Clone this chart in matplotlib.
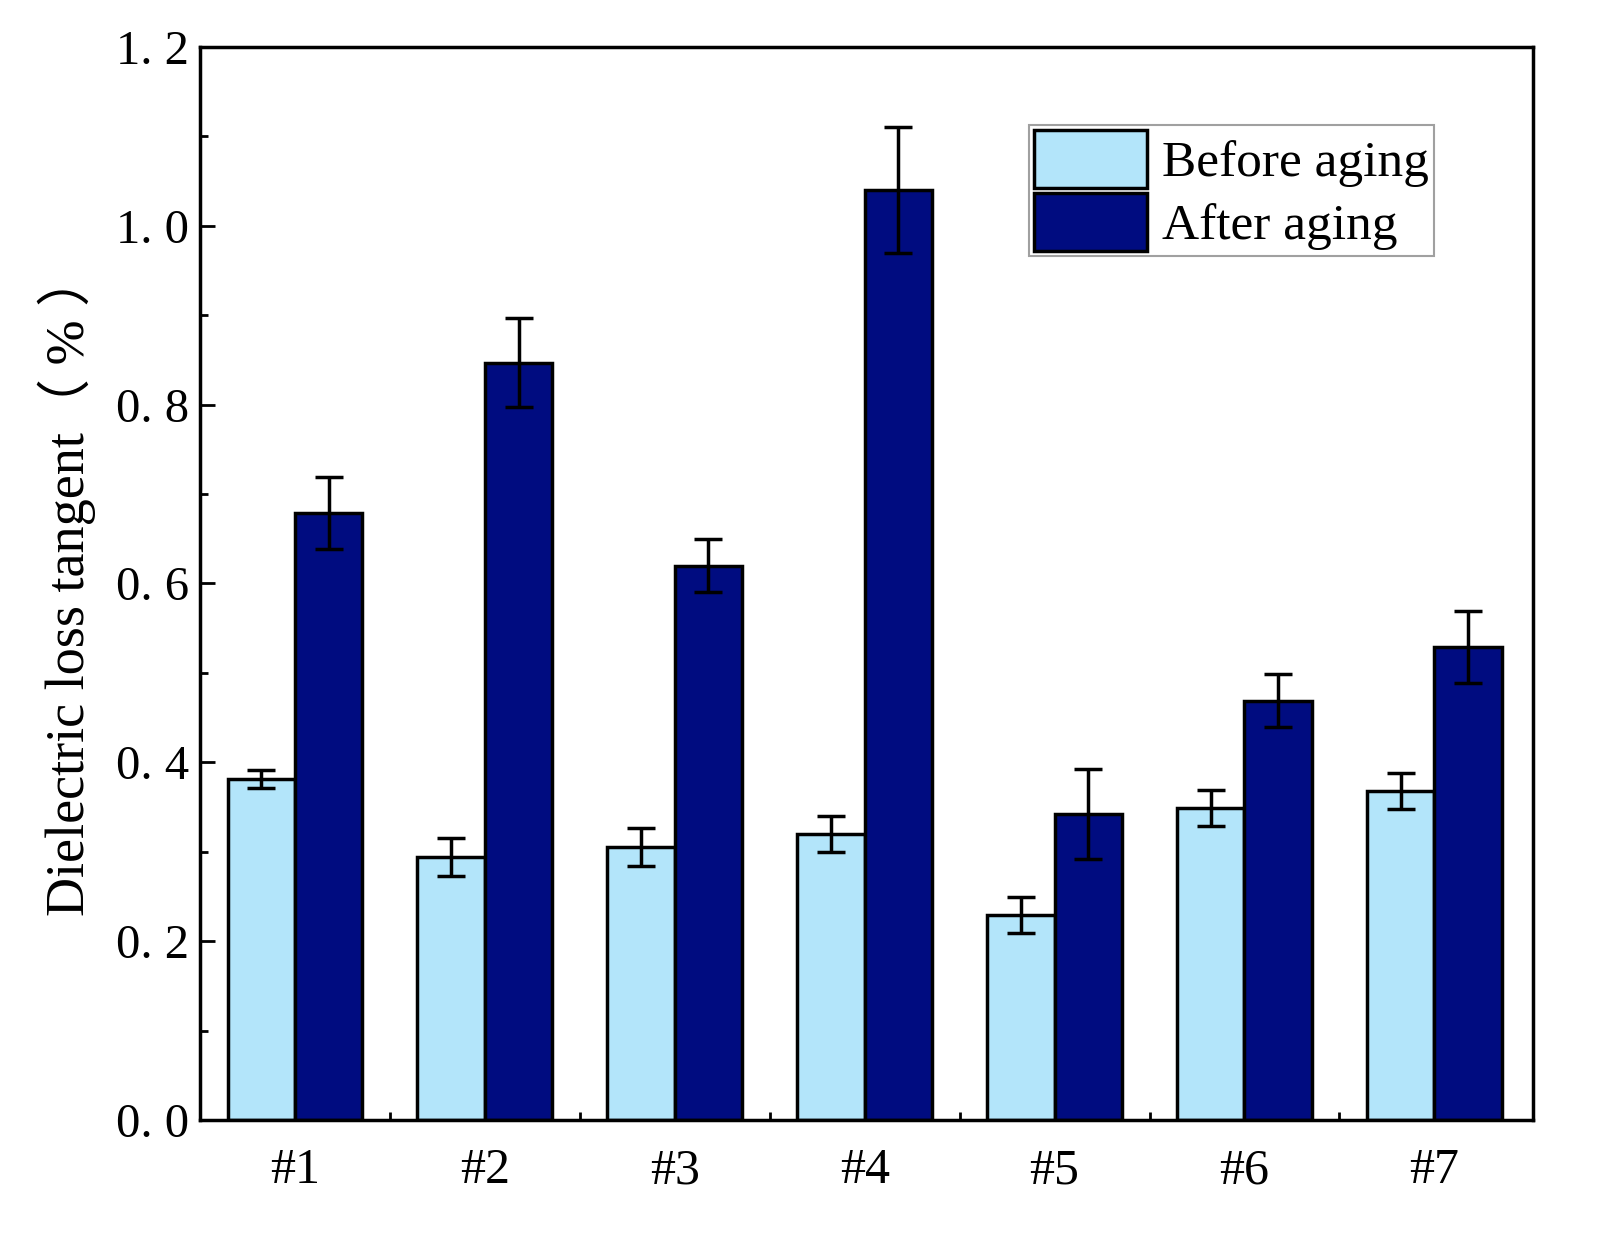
import numpy as np
import matplotlib
matplotlib.use('Agg')
import matplotlib.pyplot as plt
from matplotlib.ticker import MultipleLocator, FixedLocator

samples = ['#1', '#2', '#3', '#4', '#5', '#6', '#7']
before = [0.381, 0.294, 0.305, 0.320, 0.229, 0.349, 0.368]
before_err = [0.010, 0.021, 0.021, 0.020, 0.020, 0.020, 0.020]
after = [0.679, 0.847, 0.620, 1.040, 0.342, 0.469, 0.529]
after_err = [0.040, 0.050, 0.030, 0.070, 0.050, 0.030, 0.040]
yticks = [0.0, 0.2, 0.4, 0.6, 0.8, 1.0, 1.2]
ytick_labels = ['0. 0', '0. 2', '0. 4', '0. 6', '0. 8', '1. 0', '1. 2']

plt.rcParams['font.family'] = ['Liberation Serif', 'Noto Sans CJK SC']

fig = plt.figure(figsize=(16.07, 12.55), dpi=100)
ax = fig.add_axes([0.1245, 0.1076, 0.8295, 0.855])

x = np.arange(len(samples))
w = 0.355
light = '#B3E5FA'
dark = '#000C80'

ax.bar(x - w / 2, before, w, color=light, edgecolor='black', linewidth=2.5,
       label='Before aging', zorder=2)
ax.bar(x + w / 2, after, w, color=dark, edgecolor='black', linewidth=2.5,
       label='After aging', zorder=2)
ax.errorbar(x - w / 2, before, yerr=before_err, fmt='none', ecolor='black',
            elinewidth=2.5, capsize=10, capthick=2.5, zorder=3)
ax.errorbar(x + w / 2, after, yerr=after_err, fmt='none', ecolor='black',
            elinewidth=2.5, capsize=10, capthick=2.5, zorder=3)

ax.set_xlim(-0.5, 6.52)
ax.set_ylim(0, 1.2)
ax.set_xticks(x)
ax.set_xticklabels(samples, fontsize=36)
ax.xaxis.set_minor_locator(FixedLocator(x[:-1] + 0.5))
ax.set_yticks(yticks)
ax.set_yticklabels(ytick_labels, fontsize=35)
ax.yaxis.set_minor_locator(MultipleLocator(0.1))

ax.tick_params(axis='x', which='major', length=0, pad=20)
ax.tick_params(axis='x', which='minor', direction='in', length=6, width=2)
ax.tick_params(axis='y', which='major', direction='in', length=11, width=2, pad=8)
ax.tick_params(axis='y', which='minor', direction='in', length=6, width=2)

for s in ax.spines.values():
    s.set_linewidth(2.5)

ax.set_ylabel('Dielectric loss tangent（ % ）', fontsize=39, labelpad=14)

leg = ax.legend(loc='upper right', bbox_to_anchor=(0.926, 0.927), fontsize=37,
                fancybox=False, edgecolor='#888888', handlelength=2.2,
                handleheight=1.35, handletextpad=0.3, borderpad=0.1,
                labelspacing=0.1, borderaxespad=0)
leg.get_frame().set_linewidth(1.5)

fig.savefig('out.png', dpi=100, facecolor='white')
